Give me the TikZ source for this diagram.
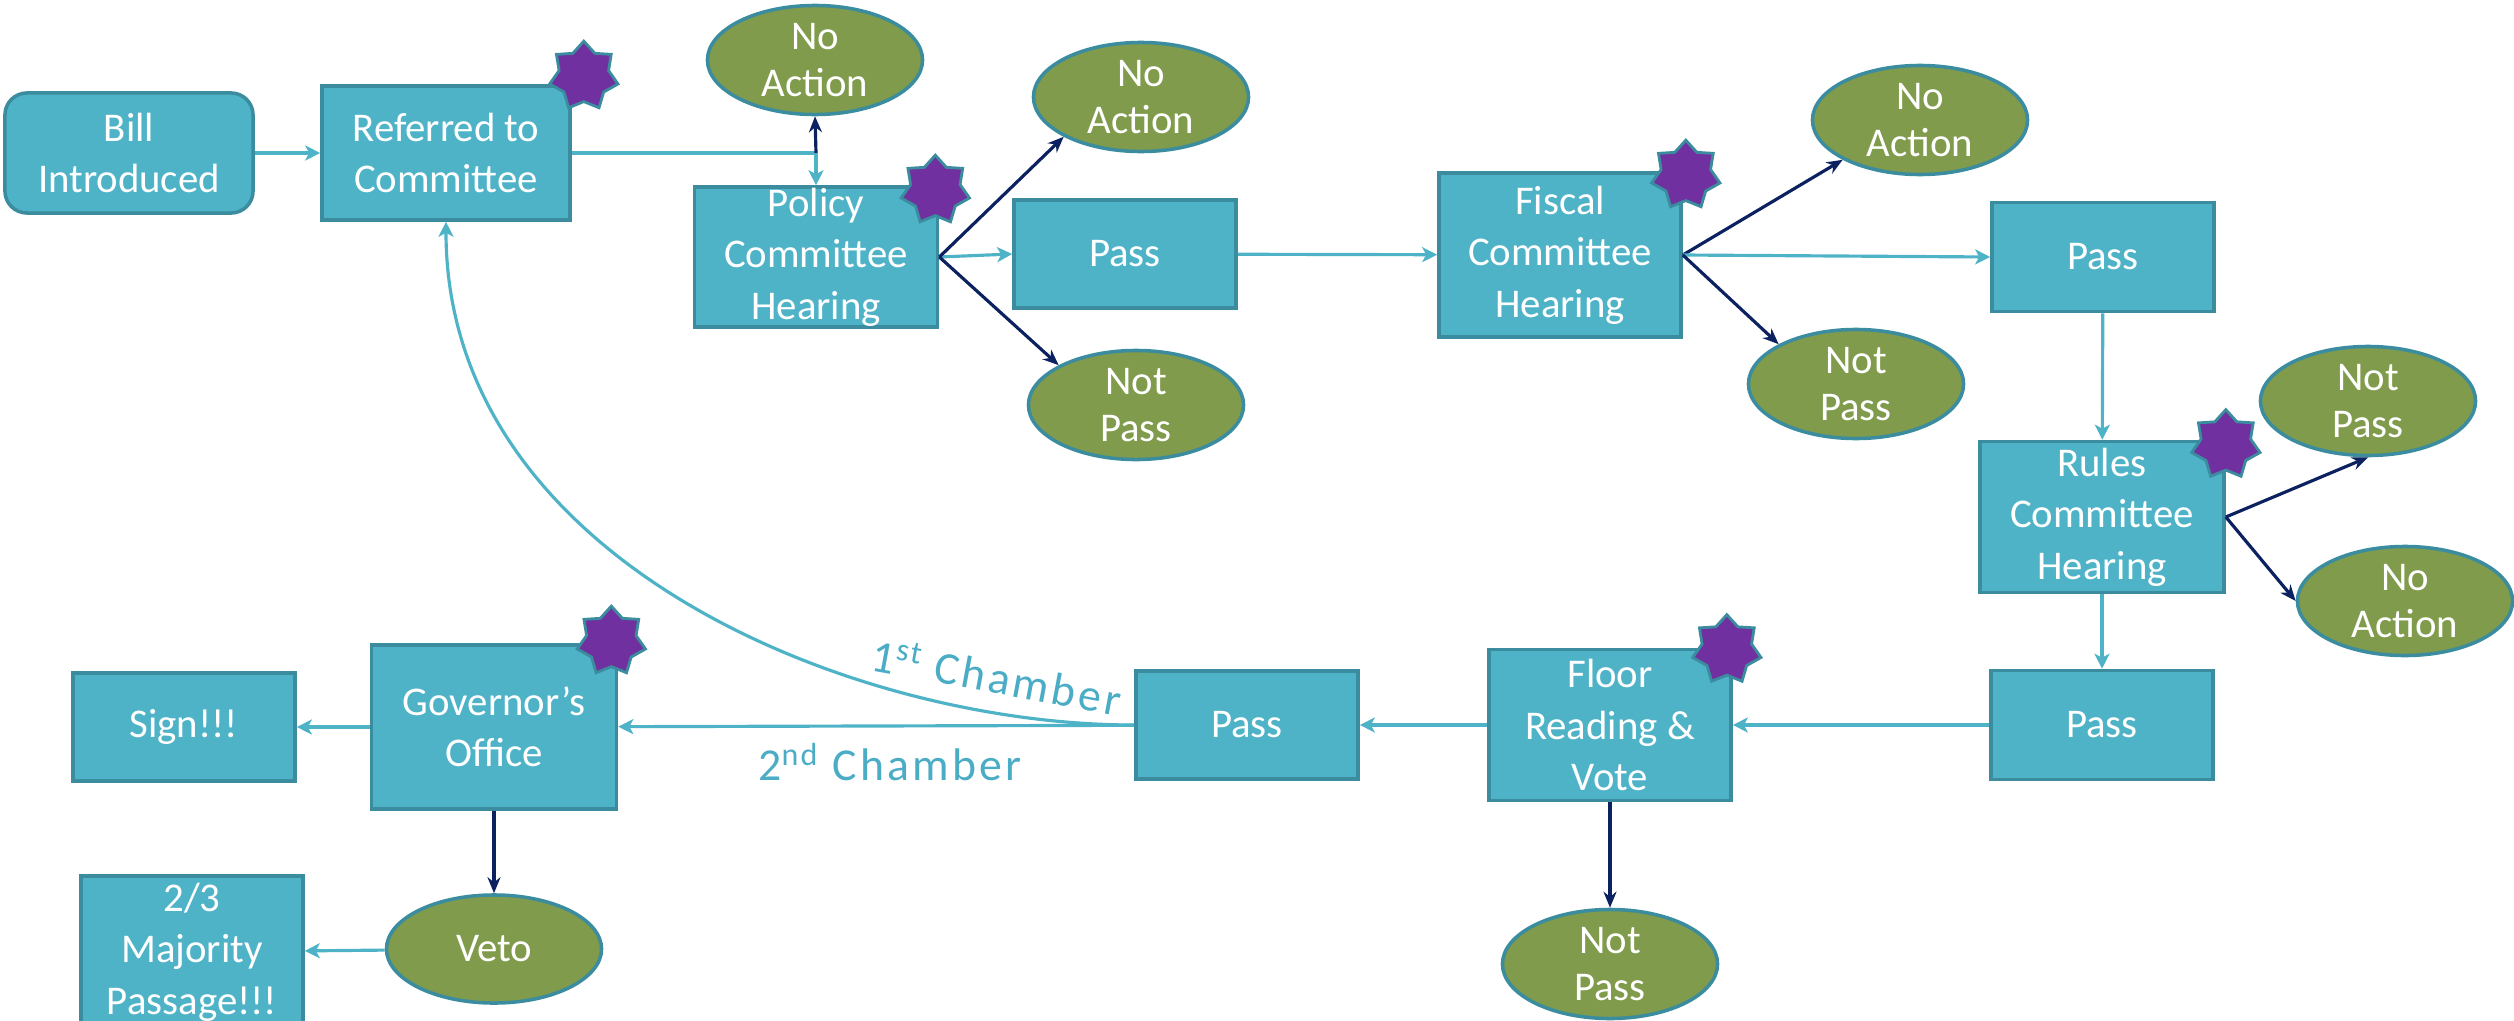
\documentclass[tikz,border=0pt]{standalone}
\usepackage{fontspec}
\setmainfont{Carlito}
\newfontfamily\chamberfont[LetterSpace=7]{Carlito}
\usetikzlibrary{shapes.geometric,arrows.meta,positioning}

\definecolor{boxfill}{HTML}{4FB3C8}
\definecolor{boxline}{HTML}{3A8C9E}
\definecolor{ovalfill}{HTML}{7F9B4B}
\definecolor{badgefill}{HTML}{7030A0}
\definecolor{flowline}{HTML}{4FB3C8}
\definecolor{darkflow}{HTML}{0B2160}
\definecolor{chambertext}{HTML}{4BACC6}

\tikzset{
  box/.style={draw=boxline, line width=1pt, fill=boxfill, text=white, align=center,
    inner sep=0pt, minimum width=2.22cm, minimum height=1.08cm,
    font=\fontsize{11.6}{14.6}\selectfont},
  oval/.style={ellipse, draw=boxline, line width=1pt, fill=ovalfill, text=white, align=center,
    inner sep=0pt, minimum width=2.15cm, minimum height=1.09cm,
    font=\fontsize{11.6}{13.4}\selectfont},
  badge/.style={star, star points=7, star point ratio=1.38, draw=boxline, line width=0.8pt,
    fill=badgefill, minimum size=0.7cm, inner sep=0pt},
  flow/.style={draw=flowline, line width=0.9pt, -{Stealth[length=1.5mm,width=1.5mm,inset=0.4mm]}},
  noflow/.style={draw=flowline, line width=0.9pt},
  reject/.style={draw=darkflow, line width=0.9pt, -{Stealth[length=1.6mm,width=1.3mm]}},
  chamberlabel/.style={text=chambertext, inner sep=0pt, font=\chamberfont\fontsize{13}{15}\selectfont},
}

\begin{document}
\begin{tikzpicture}[x=0.01cm,y=-0.01cm]
	\clip (0,0) rectangle (2514,1021);
	% first row
	\node[box, rounded corners=0.22cm, minimum width=2.48cm, minimum height=1.2cm] (bill) at (129,153) {Bill\\Introduced};
	\node[box, minimum width=2.48cm, minimum height=1.34cm] (referred) at (446,153) {Referred to\\Committee};
	\node[oval] (refno) at (815,60) {No\\Action};
	\node[box, minimum width=2.43cm, minimum height=1.4cm] (policy) at (816,257) {Policy\\Committee\\Hearing};
	\node[oval] (polno) at (1141,97) {No\\Action};
	\node[box] (polpass) at (1125,254) {Pass};
	\node[oval] (polnot) at (1136,405) {Not\\Pass};
	\node[box, minimum width=2.42cm, minimum height=1.64cm] (fiscal) at (1560,255) {Fiscal\\Committee\\Hearing};
	\node[oval] (fisno) at (1920,120) {No\\Action};
	\node[box, minimum height=1.09cm] (fispass) at (2103,257) {Pass};
	\node[oval] (fisnot) at (1856,384) {Not\\Pass};
	% right column
	\node[box, minimum width=2.44cm, minimum height=1.51cm] (rules) at (2102,517) {Rules\\Committee\\Hearing};
	\node[oval] (rulnot) at (2368,401) {Not\\Pass};
	\node[oval] (rulno) at (2405,601) {No\\Action};
	\node[box, minimum height=1.09cm] (rulpass) at (2102,725) {Pass};
	% second row
	\node[box, minimum width=2.42cm, minimum height=1.51cm] (floor) at (1610,725) {Floor\\Reading \&\\Vote};
	\node[oval] (floornot) at (1610,964) {Not\\Pass};
	\node[box] (floorpass) at (1247,725) {Pass};
	\node[box, minimum width=2.45cm, minimum height=1.64cm] (governor) at (494,727) {Governor’s\\Office};
	\node[box] (sign) at (184,727) {Sign!!!};
	\node[oval, minimum height=1.08cm] (veto) at (494,949) {Veto};
	\node[box, minimum height=1.52cm] (override) at (192,952) {2/3\\Majority\\Passage!!!};
	% hearing stars
	\foreach \n/\dx/\dy in {referred/12/-8, policy/-4/5, fiscal/3/4, rules/0/5, floor/-6/2, governor/-7/-2}
		\node[badge] at ([shift={(\dx,\dy)}]\n.north east) {};
	% connectors
	\draw[flow] (bill) -- (referred);
	\coordinate (split) at (policy.north |- referred.east);
	\draw[noflow] (referred.east) -- (split);
	\draw[flow] (split) -- (policy.north);
	\draw[reject] (split) -- (refno.south);
	\draw[flow] (policy.east) -- (polpass.west);
	\draw[reject] (policy.east) -- (polno.south west);
	\draw[reject] (policy.east) -- (polnot.north west);
	\draw[flow] (polpass) -- (fiscal);
	\draw[reject] (fiscal.east) -- (fisno.south west);
	\draw[flow] (fiscal.east) -- (fispass.west);
	\draw[reject] (fiscal.east) -- (fisnot.north west);
	\draw[flow] (fispass) -- (rules);
	\draw[reject] (rules.east) -- (rulnot.south);
	\draw[reject] (rules.east) -- (rulno.west);
	\draw[flow] (rules) -- (rulpass);
	\draw[flow] (rulpass) -- (floor);
	\draw[reject] (floor) -- (floornot);
	\draw[flow] (floor) -- (floorpass);
	\draw[flow] (floorpass) -- (governor);
	\draw[flow] (floorpass.west) .. controls (850,725) and (446,560) .. (referred.south);
	\draw[flow] (governor) -- (sign);
	\draw[reject] (governor) -- (veto);
	\draw[flow] (veto) -- (override);
	% chamber labels
	\node[chamberlabel, rotate=-10.5] (first) at (997,676) {1\textsuperscript{st} Chamber};
	\node[chamberlabel] (second) at (890,762) {2\textsuperscript{nd} Chamber};
\end{tikzpicture}
\end{document}
